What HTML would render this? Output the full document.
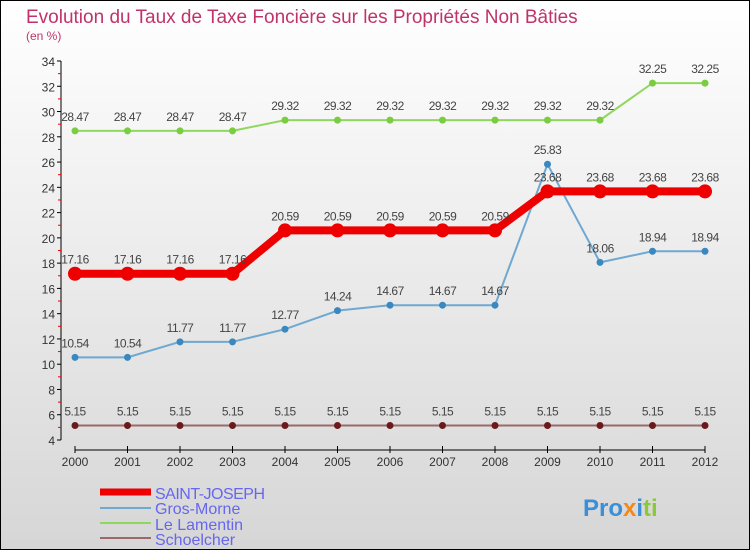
<!DOCTYPE html>
<html><head><meta charset="utf-8"><style>
body{margin:0}
#c{width:750px;height:550px;position:relative;box-sizing:border-box;border:1px solid #000;background:linear-gradient(#fff,#d6d6d6);font-family:"Liberation Sans",sans-serif;overflow:hidden}
</style></head><body>
<div id="c">
<svg id="s" width="750" height="550" style="position:absolute;left:-1px;top:-1px">
<text x="26" y="23" font-size="19" fill="#c0336a">Evolution du Taux de Taxe Foncière sur les Propriétés Non Bâties</text>
<text x="26" y="40" font-size="12" fill="#c0336a">(en %)</text>
<g id="axes"></g><g id="series"></g>
<g>
<line x1="100" y1="492" x2="151" y2="492" stroke="#e00" stroke-width="7"/>
<text x="155" y="499" font-size="16" fill="#6666ee" textLength="110">SAINT-JOSEPH</text>
<line x1="100" y1="508" x2="151" y2="508" stroke="#6fa8d0" stroke-width="2"/>
<text x="155" y="514" font-size="16" fill="#6666ee">Gros-Morne</text>
<line x1="100" y1="523" x2="151" y2="523" stroke="#8fd860" stroke-width="2"/>
<text x="155" y="530" font-size="16" fill="#6666ee">Le Lamentin</text>
<line x1="100" y1="538" x2="151" y2="538" stroke="#9a6a6a" stroke-width="2"/>
<text x="155" y="545" font-size="16" fill="#6666ee">Schoelcher</text>
</g>
<text x="583" y="516" font-size="24" font-weight="bold"><tspan fill="#3a8fd8">Pro</tspan><tspan fill="#f08a1a">x</tspan><tspan fill="#3a8fd8">i</tspan><tspan fill="#8cc83c">ti</tspan></text>
</svg>
</div>
<script>
const years=[2000,2001,2002,2003,2004,2005,2006,2007,2008,2009,2010,2011,2012];
const yTicks=[4,6,8,10,12,14,16,18,20,22,24,26,28,30,32,34];
const saintJoseph=[17.16,17.16,17.16,17.16,20.59,20.59,20.59,20.59,20.59,23.68,23.68,23.68,23.68];
const grosMorne=[10.54,10.54,11.77,11.77,12.77,14.24,14.67,14.67,14.67,25.83,18.06,18.94,18.94];
const leLamentin=[28.47,28.47,28.47,28.47,29.32,29.32,29.32,29.32,29.32,29.32,29.32,32.25,32.25];
const schoelcher=[5.15,5.15,5.15,5.15,5.15,5.15,5.15,5.15,5.15,5.15,5.15,5.15,5.15];
const NS="http://www.w3.org/2000/svg";
const X=i=>75+i*52.5, Y=v=>440-(v-4)*(379/30);
function mk(t,a,p){const e=document.createElementNS(NS,t);for(const k in a)e.setAttribute(k,a[k]);p.appendChild(e);return e;}
const ax=document.getElementById('axes');
const yl=mk('line',{x1:61,y1:Y(34),x2:61,y2:Y(4),stroke:'#000'},ax);


yTicks.forEach(v=>{
 mk('line',{x1:57,y1:Y(v),x2:61,y2:Y(v),stroke:'#000'},ax);
 if(v<34)mk('line',{x1:58,y1:Y(v+1),x2:61,y2:Y(v+1),stroke:'#e00'},ax);
 const t=mk('text',{x:55,y:Y(v)+5,'font-size':12,fill:'#333','text-anchor':'end'},ax);t.textContent=v;
 
 
});
const xl=mk('line',{x1:X(0),y1:450,x2:X(12),y2:450,stroke:'#000'},ax);


years.forEach((y,i)=>{
 mk('line',{x1:X(i),y1:446,x2:X(i),y2:453,stroke:'#000'},ax);
 const t=mk('text',{x:X(i),y:466,'font-size':12,fill:'#333','text-anchor':'middle'},ax);t.textContent=y;
 
 
});
const sg=document.getElementById('series');
function draw(vals,color,w,r,dot,name){
 const g=mk('g',{},sg);
 
 
 mk('polyline',{points:vals.map((v,i)=>X(i)+','+Y(v)).join(' '),fill:'none',stroke:color,'stroke-width':w,'stroke-linejoin':'round'},g);
 vals.forEach((v,i)=>{
  const c=mk('circle',{cx:X(i),cy:Y(v),r:r,fill:dot},g);
  
  
  const t=mk('text',{x:X(i),y:Y(v)-10,'font-size':12,fill:'#444','text-anchor':'middle','letter-spacing':'-0.5'},g);t.textContent=v;
  
  
 });
}
draw(schoelcher,'#9a6a6a',2,3.5,'#6a1a1a','schoelcher');
draw(leLamentin,'#8fd860',2,3.5,'#7acc40','le-lamentin');
draw(grosMorne,'#6fa8d0',2,3.5,'#3a88c0','gros-morne');
draw(saintJoseph,'#e00',8,7,'#e00','saint-joseph');
</script>
</body></html>
